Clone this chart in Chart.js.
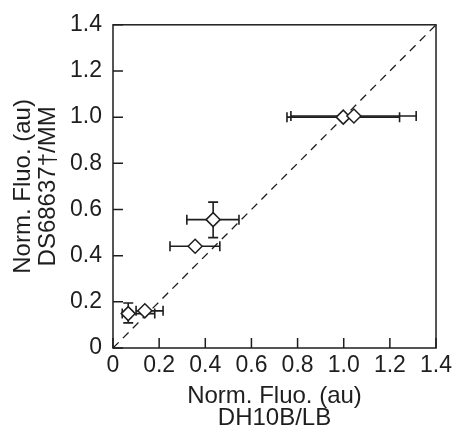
<!DOCTYPE html>
<html>
<head>
<meta charset="utf-8">
<script src="https://cdn.jsdelivr.net/npm/chart.js@4/dist/chart.umd.min.js"></script>
<style>
html,body{margin:0;padding:0;background:#fff;}
#wrap{width:456px;height:436px;}
</style>
</head>
<body>
<div id="wrap"><canvas id="c" width="456" height="436"></canvas></div>
<script>
const xVals = [0.066, 0.138, 0.356, 0.434, 0.998, 1.044];
const yVals = [0.149, 0.161, 0.441, 0.556, 1.000, 1.005];
const xErrLow = [0.04, 0.10, 0.247, 0.320, 0.754, 0.771];
const xErrHigh = [0.181, 0.217, 0.463, 0.546, 1.242, 1.314];
const yErrLow = [0.109, null, null, 0.478, null, null];
const yErrHigh = [0.195, null, null, 0.632, null, null];
const refLine = [0, 1.4];
const tickValues = [0, 0.2, 0.4, 0.6, 0.8, 1.0, 1.2, 1.4];
const xTitle = ['Norm. Fluo. (au)', 'DH10B/LB'];
const yTitle = ['Norm. Fluo. (au)', 'DS68637\u2020/MM'];

const ink = '#1e1e1e';
const fontFam = '"Liberation Sans", Arial, sans-serif';

const points = xVals.map((x, i) => ({x: x, y: yVals[i]}));

function fmt(v) {
  if (Math.abs(v) < 1e-9) return '0';
  return v.toFixed(1);
}

const errorBars = {
  id: 'errorBars',
  beforeDatasetsDraw(chart) {
    const ctx = chart.ctx;
    const xs = chart.scales.x, ys = chart.scales.y;
    ctx.save();
    ctx.strokeStyle = ink;
    ctx.lineWidth = 1.6;
    const cap = 5;
    for (let i = 0; i < xVals.length; i++) {
      const py = ys.getPixelForValue(yVals[i]);
      const px = xs.getPixelForValue(xVals[i]);
      if (xErrLow[i] != null && xErrHigh[i] != null) {
        const l = xs.getPixelForValue(xErrLow[i]);
        const r = xs.getPixelForValue(xErrHigh[i]);
        ctx.beginPath();
        ctx.moveTo(l, py); ctx.lineTo(r, py);
        ctx.moveTo(l, py - cap); ctx.lineTo(l, py + cap);
        ctx.moveTo(r, py - cap); ctx.lineTo(r, py + cap);
        ctx.stroke();
      }
      if (yErrLow[i] != null && yErrHigh[i] != null) {
        const b = ys.getPixelForValue(yErrLow[i]);
        const t = ys.getPixelForValue(yErrHigh[i]);
        ctx.beginPath();
        ctx.moveTo(px, b); ctx.lineTo(px, t);
        ctx.moveTo(px - cap, b); ctx.lineTo(px + cap, b);
        ctx.moveTo(px - cap, t); ctx.lineTo(px + cap, t);
        ctx.stroke();
      }
    }
    ctx.restore();
  }
};

const frame = {
  id: 'frame',
  afterDatasetsDraw(chart) {
    const ctx = chart.ctx;
    const a = chart.chartArea;
    const xs = chart.scales.x, ys = chart.scales.y;
    ctx.save();
    ctx.strokeStyle = ink;
    ctx.lineWidth = 1.5;
    ctx.strokeRect(a.left, a.top, a.right - a.left, a.bottom - a.top);
    const tl = 10;
    ctx.beginPath();
    tickValues.forEach(v => {
      const px = xs.getPixelForValue(v);
      ctx.moveTo(px, a.bottom); ctx.lineTo(px, a.bottom - tl);
      const py = ys.getPixelForValue(v);
      ctx.moveTo(a.left, py); ctx.lineTo(a.left + tl, py);
    });
    ctx.stroke();
    ctx.restore();
  }
};

new Chart(document.getElementById('c'), {
  type: 'scatter',
  data: {
    datasets: [
      {
        type: 'line',
        data: refLine.map(v => ({x: v, y: v})),
        borderColor: ink,
        borderWidth: 1.3,
        borderDash: [8, 6],
        pointRadius: 0,
        fill: false,
        order: 2
      },
      {
        data: points,
        pointStyle: 'rectRot',
        pointRadius: 7,
        pointBackgroundColor: '#ffffff',
        pointBorderColor: ink,
        pointBorderWidth: 1.5,
        order: 1
      }
    ]
  },
  plugins: [errorBars, frame],
  options: {
    responsive: false,
    animation: false,
    events: [],
    layout: {padding: {left: 0, right: 18, top: 23, bottom: 0}},
    plugins: {legend: {display: false}, tooltip: {enabled: false}},
    scales: {
      x: {
        type: 'linear', min: 0, max: 1.4,
        afterBuildTicks(s) { s.ticks = tickValues.map(v => ({value: v})); },
        afterFit(s) { s.height = 88; },
        grid: {display: false, drawTicks: false},
        border: {display: false},
        ticks: {
          color: ink, padding: 4,
          font: {family: fontFam, size: 23},
          maxRotation: 0, autoSkip: false,
          callback: v => fmt(v)
        },
        title: {
          display: true, text: xTitle, color: ink,
          font: {family: fontFam, size: 24, lineHeight: 0.9},
          padding: {top: 0, bottom: 7}
        }
      },
      y: {
        type: 'linear', min: 0, max: 1.4,
        afterBuildTicks(s) { s.ticks = tickValues.map(v => ({value: v})); },
        afterFit(s) { s.width = 113; },
        grid: {display: false, drawTicks: false},
        border: {display: false},
        ticks: {
          color: ink, padding: 11,
          font: {family: fontFam, size: 23},
          autoSkip: false,
          callback: v => fmt(v)
        },
        title: {
          display: true, text: yTitle, color: ink,
          font: {family: fontFam, size: 24, lineHeight: 1.04},
          padding: {top: 10.5, bottom: 0}
        }
      }
    }
  }
});
</script>
</body>
</html>
